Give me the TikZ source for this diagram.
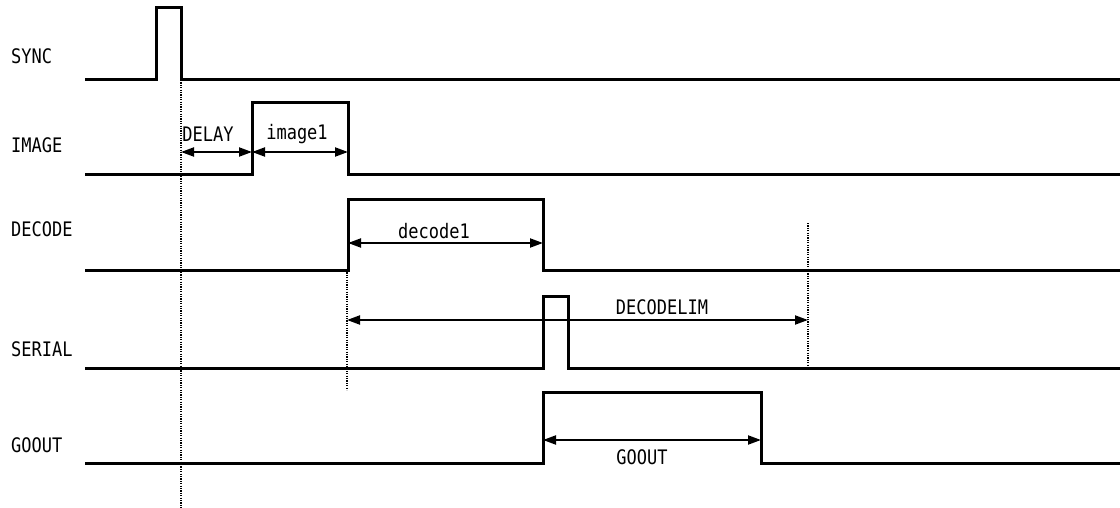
\documentclass[tikz,border=0pt]{standalone}
\usepackage{fontspec}
\setmainfont{DejaVu Sans Mono}[FakeStretch=0.85]
\usetikzlibrary{arrows.meta}
\begin{document}
\begin{tikzpicture}[x=1pt, y=-1pt,
        wave/.style={line width=3pt, line join=miter},
        span/.style={line width=2pt, {Triangle[length=13pt,width=9pt]}-{Triangle[length=13pt,width=9pt]}},
        guide/.style={line width=1.2pt, dash pattern=on 1.2pt off 1.2pt},
        lbl/.style={font=\fontsize{20}{20}\selectfont, inner sep=0pt}]
        \useasboundingbox (0,0) rectangle (1120,508);

        % Nodes
        \node[lbl, anchor=west] (sync) at (11,56) {SYNC};
        \node[lbl, anchor=west] (image) at (11,145) {IMAGE};
        \node[lbl, anchor=west] (decode) at (11,229) {DECODE};
        \node[lbl, anchor=west] (serial) at (11,349) {SERIAL};
        \node[lbl, anchor=west] (goout) at (11,445) {GOOUT};

        \node[lbl] (delay) at (208,134) {DELAY};
        \node[lbl] (image1) at (297,134) {image1};
        \node[lbl] (decode1) at (434,231) {decode1};
        \node[lbl] (decodelim) at (662,307) {DECODELIM};
        \node[lbl] (gooutlen) at (642,457) {GOOUT};

        \coordinate (t0) at (181,152);
        \coordinate (t1) at (252,152);
        \coordinate (t2) at (348,152);
        \coordinate (t3) at (348,243);
        \coordinate (t4) at (543,243);
        \coordinate (t5) at (347,320);
        \coordinate (t6) at (808,320);
        \coordinate (t7) at (543,440);
        \coordinate (t8) at (761,440);

        % Waves
        \draw[wave] (85,80) -- (156,80) -- (156,8) -- (181,8) -- (181,80) -- (1120,80);
        \draw[wave] (85,175) -- (252,175) -- (252,103) -- (348,103) -- (348,175) -- (1120,175);
        \draw[wave] (85,270) -- (348,270) -- (348,200) -- (543,200) -- (543,270) -- (1120,270);
        \draw[wave] (85,368) -- (543,368) -- (543,296) -- (568,296) -- (568,368) -- (1120,368);
        \draw[wave] (85,463) -- (543,463) -- (543,392) -- (761,392) -- (761,463) -- (1120,463);

        % Guides
        \draw[guide] (181,80) -- (181,508);
        \draw[guide] (347,270) -- (347,390);
        \draw[guide] (808,223) -- (808,366);

        % Edges
        \draw[span] (t0) -- (t1);
        \draw[span] (t1) -- (t2);
        \draw[span] (t3) -- (t4);
        \draw[span] (t5) -- (t6);
        \draw[span] (t7) -- (t8);
    \end{tikzpicture}
\end{document}
